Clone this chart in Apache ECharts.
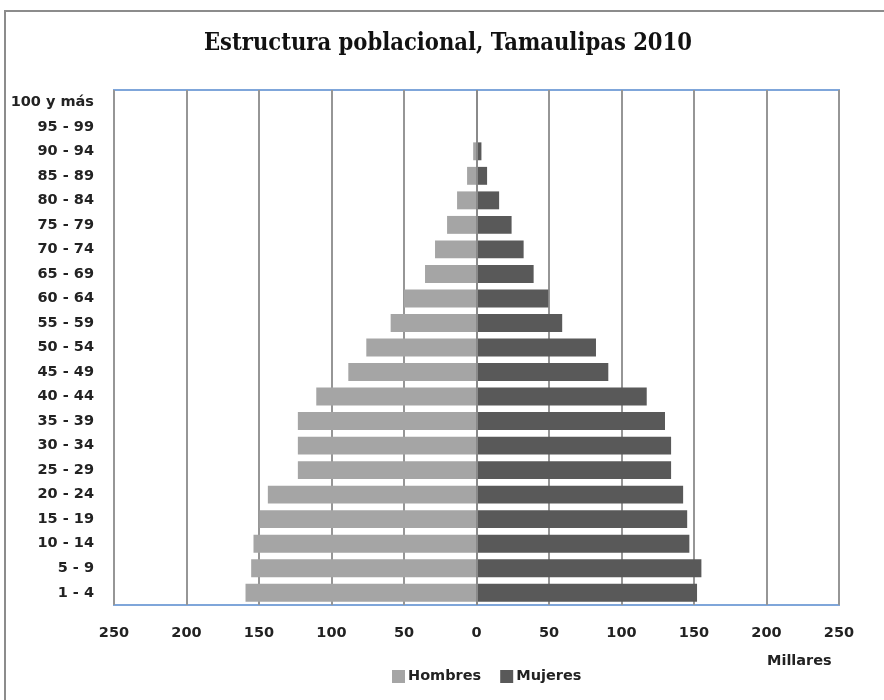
<!DOCTYPE html>
<html>
<head>
<meta charset="utf-8">
<style>
  html, body { margin: 0; padding: 0; background: #fff; }
  #chart { width: 884px; height: 700px; }
</style>
<script src="https://cdn.jsdelivr.net/npm/echarts@6/dist/echarts.min.js"></script>
</head>
<body>
<div id="chart"></div>
<script>
// Grupos de edad, de abajo (1 - 4) hacia arriba (100 y más)
const ageGroups = ['1 - 4', '5 - 9', '10 - 14', '15 - 19', '20 - 24', '25 - 29', '30 - 34',
  '35 - 39', '40 - 44', '45 - 49', '50 - 54', '55 - 59', '60 - 64', '65 - 69', '70 - 74',
  '75 - 79', '80 - 84', '85 - 89', '90 - 94', '95 - 99', '100 y más'];

// Población en miles
const hombres = [159.3, 155.4, 153.8, 149.6, 143.9, 123.2, 123.2, 123.2, 110.5, 88.4,
  76.0, 59.2, 50.0, 35.5, 28.6, 20.3, 13.4, 6.5, 2.3, 0.3, 0.1];
const mujeres = [152.1, 155.1, 146.8, 145.3, 142.5, 134.2, 134.2, 130.0, 117.4, 90.9,
  82.4, 59.1, 49.5, 39.4, 32.5, 24.2, 15.6, 7.3, 3.4, 0.5, 0.1];

// Marcas del eje horizontal
const xTicks = [-250, -200, -150, -100, -50, 0, 50, 100, 150, 200, 250];

const labelFont = '"DejaVu Sans", sans-serif';
const labelSize = 14.5;

const chart = echarts.init(document.getElementById('chart'));
chart.setOption({
  animation: false,
  backgroundColor: '#ffffff',
  title: {
    text: 'Estructura poblacional, Tamaulipas 2010',
    left: 204,
    top: 32,
    padding: 0,
    textStyle: {
      fontFamily: '"DejaVu Serif Condensed", "DejaVu Serif", serif',
      fontSize: 23.5,
      fontWeight: 'bold',
      color: '#111'
    }
  },
  graphic: [
    {
      type: 'rect',
      silent: true,
      shape: { x: 5, y: 11, width: 900, height: 720 },
      style: { fill: 'none', stroke: '#8c8c8c', lineWidth: 2 }
    },
    {
      type: 'text',
      silent: true,
      left: 767,
      top: 654,
      style: {
        text: 'Millares',
        fontFamily: labelFont,
        fontSize: labelSize,
        fontWeight: 'bold',
        fill: '#222'
      }
    }
  ],
  legend: {
    left: 387,
    top: 664,
    itemWidth: 13,
    itemHeight: 13,
    itemGap: 19,
    icon: 'rect',
    textStyle: { fontFamily: labelFont, fontSize: labelSize, fontWeight: 'bold', color: '#222', padding: [0, 0, 0, -2] },
    data: ['Hombres', 'Mujeres']
  },
  grid: {
    left: 114,
    right: 45,
    top: 90,
    bottom: 95,
    show: true,
    borderColor: '#7fa6da',
    borderWidth: 2,
    backgroundColor: 'transparent'
  },
  xAxis: {
    type: 'value',
    min: xTicks[0],
    max: xTicks[xTicks.length - 1],
    interval: 50,
    axisLine: { show: false },
    axisTick: { show: false },
    splitLine: { show: true, lineStyle: { color: '#969696', width: 2 } },
    axisLabel: {
      margin: 21,
      fontFamily: labelFont,
      fontSize: labelSize,
      fontWeight: 'bold',
      color: '#222',
      formatter: v => String(Math.abs(v))
    }
  },
  yAxis: {
    type: 'category',
    data: ageGroups,
    axisLine: { show: false },
    axisTick: { show: false },
    splitLine: { show: false },
    axisLabel: {
      margin: 20,
      fontFamily: labelFont,
      fontSize: labelSize,
      fontWeight: 'bold',
      color: '#222'
    }
  },
  series: [
    {
      name: 'Hombres',
      type: 'bar',
      data: hombres.map(v => -v),
      barCategoryGap: '27%',
      barGap: '-100%',
      itemStyle: { color: '#a5a5a5' }
    },
    {
      name: 'Mujeres',
      type: 'bar',
      data: mujeres,
      barCategoryGap: '27%',
      barGap: '-100%',
      itemStyle: { color: '#595959' },
      markLine: {
        silent: true,
        symbol: ['none', 'none'],
        label: { show: false },
        lineStyle: { color: '#8a8a8a', width: 2, type: 'solid' },
        data: [{ xAxis: 0 }]
      }
    }
  ]
});
</script>
</body>
</html>
